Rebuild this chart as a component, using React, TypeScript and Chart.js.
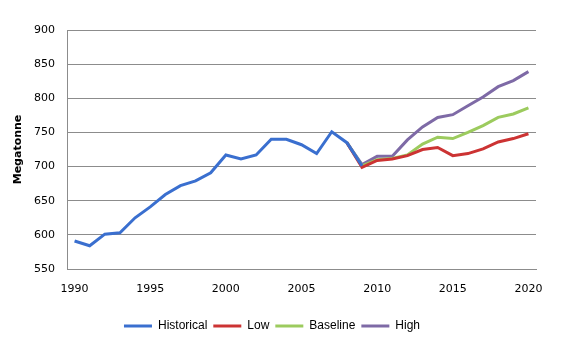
import React, { useEffect, useRef } from "react";
import { Chart, registerables } from "chart.js";

Chart.register(...registerables);

const years: string[] = [
  "1990","1991","1992","1993","1994","1995","1996","1997","1998","1999",
  "2000","2001","2002","2003","2004","2005","2006","2007","2008","2009",
  "2010","2011","2012","2013","2014","2015","2016","2017","2018","2019","2020",
];

const historical: (number | null)[] = [
  591, 584, 601, 603, 625, 641, 659, 672, 679, 691,
  717, 711, 717, 740, 740, 732, 719, 751, 735, 701,
  null, null, null, null, null, null, null, null, null, null, null,
];

const low: (number | null)[] = [
  null, null, null, null, null, null, null, null, null, null,
  null, null, null, null, null, null, null, null, 735, 699,
  709, 711, 716, 725, 728, 716, 719, 726, 736, 741, 748,
];

const baseline: (number | null)[] = [
  null, null, null, null, null, null, null, null, null, null,
  null, null, null, null, null, null, null, null, 735, 701,
  710, 712, 717, 733, 743, 741, 750, 760, 772, 777, 786,
];

const high: (number | null)[] = [
  null, null, null, null, null, null, null, null, null, null,
  null, null, null, null, null, null, null, null, 735, 703,
  715, 715, 739, 758, 772, 776, 789, 802, 817, 826, 839,
];

const seriesNames = ["Historical", "Low", "Baseline", "High"];
const seriesColors = ["#3A6FCF", "#CC3333", "#9CCB5E", "#7E6AA6"];

export default function App() {
  const ref = useRef<HTMLCanvasElement | null>(null);

  useEffect(() => {
    if (!ref.current) return;
    const data = [historical, low, baseline, high];
    const chart = new Chart(ref.current, {
      type: "line",
      data: {
        labels: years,
        datasets: data.map((d, i) => ({
          label: seriesNames[i],
          data: d,
          borderColor: seriesColors[i],
          backgroundColor: seriesColors[i],
          borderWidth: 3,
          pointRadius: 0,
          pointStyle: "line",
          tension: 0,
          spanGaps: false,
        })),
      },
      options: {
        responsive: false,
        animation: false,
        layout: { padding: { top: 30, right: 29, left: 8, bottom: 8 } },
        plugins: {
          tooltip: { enabled: false },
          legend: {
            position: "bottom",
            labels: {
              usePointStyle: true,
              pointStyleWidth: 28,
              padding: 6,
              color: "#000",
              font: { family: "Liberation Sans", size: 12 },
            },
          },
        },
        scales: {
          x: {
            offset: true,
            grid: { display: false, drawTicks: false },
            border: { display: true, color: "#8c8c8c", width: 1 },
            ticks: {
              autoSkip: false,
              maxRotation: 0,
              padding: 14,
              color: "#000",
              font: { family: "DejaVu Sans", size: 11 },
              callback: function (_v: any, idx: number) {
                const y = parseInt(years[idx], 10);
                return y % 5 === 0 ? years[idx] : "";
              },
            },
            afterFit: (scale: any) => {
              scale.height = 45;
            },
          },
          y: {
            min: 550,
            max: 900,
            ticks: {
              stepSize: 50,
              padding: 12,
              color: "#000",
              font: { family: "DejaVu Sans", size: 11 },
            },
            grid: { color: "#8c8c8c", lineWidth: 1, drawTicks: false },
            border: { display: true, color: "#8c8c8c", width: 1 },
            title: {
              display: true,
              text: "Megatonne",
              color: "#000",
              font: { family: "DejaVu Sans", size: 11, weight: "bold" },
              padding: { top: 4, bottom: 4 },
            },
            afterFit: (scale: any) => {
              scale.width = 59;
            },
          },
        },
      },
    });
    return () => chart.destroy();
  }, []);

  return (
    <div style={{ position: "absolute", left: 0, top: 0, width: 565, height: 350, background: "#fff" }}>
      <canvas ref={ref} width={565} height={350} />
    </div>
  );
}
